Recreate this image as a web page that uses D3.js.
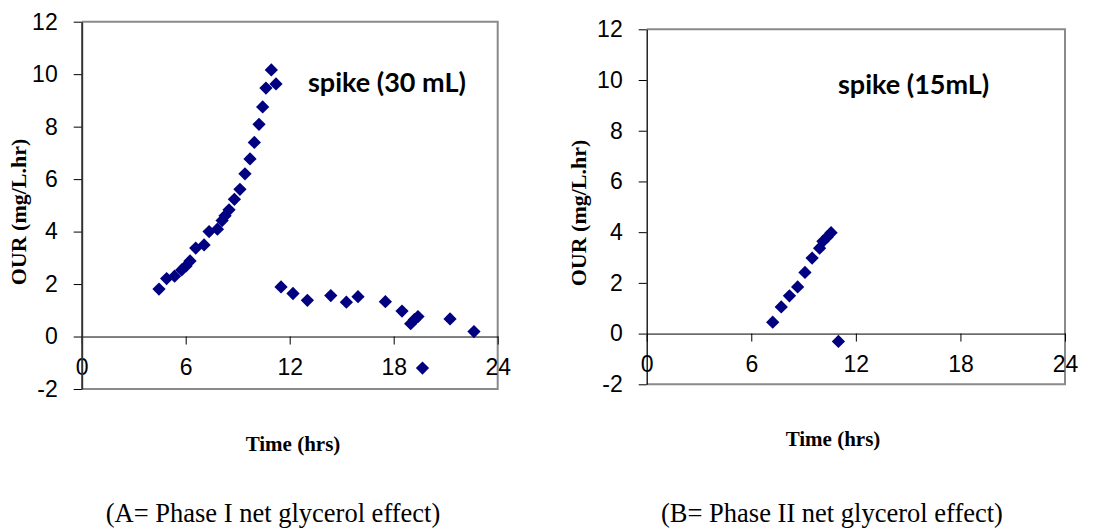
<!DOCTYPE html>
<html>
<head>
<meta charset="utf-8">
<script src="https://cdn.jsdelivr.net/npm/d3@7"></script>
<style>
  html, body { margin: 0; padding: 0; background: #fff; }
  svg { display: block; }
</style>
</head>
<body>
<svg id="chart" width="1094" height="531"></svg>
<script>
// ---------- data ----------
const xTicks = [0, 6, 12, 18, 24];
const yTicks = [-2, 0, 2, 4, 6, 8, 10, 12];

// Panel A: Phase I (spike 30 mL)
const phaseITime = [4.46, 4.90, 5.36, 5.77, 6.02, 6.25, 6.58, 7.06, 7.35, 7.83, 8.10, 8.27, 8.50,
  8.81, 9.13, 9.42, 9.71, 9.96, 10.23, 10.44, 10.63, 10.94, 11.21,
  11.50, 12.19, 13.02, 14.37, 15.27, 15.94, 17.52, 18.48, 18.98, 19.19, 19.40, 19.66, 21.25, 22.63];
const phaseIOUR = [1.81, 2.21, 2.30, 2.54, 2.69, 2.88, 3.37, 3.49, 4.00, 4.09, 4.42, 4.60, 4.83,
  5.23, 5.61, 6.20, 6.77, 7.40, 8.09, 8.75, 9.47, 10.16, 9.63,
  1.89, 1.64, 1.38, 1.56, 1.31, 1.52, 1.33, 0.97, 0.49, 0.64, 0.76, -1.20, 0.67, 0.19];

// Panel B: Phase II (spike 15 mL)
const phaseIITime = [7.23, 7.72, 8.19, 8.66, 9.08, 9.49, 9.92, 10.11, 10.36, 10.58, 11.00];
const phaseIIOUR = [0.45, 1.05, 1.49, 1.84, 2.41, 2.98, 3.37, 3.64, 3.81, 3.98, -0.31];

const panelLabels = ["spike (30 mL)", "spike (15mL)"];
const captions = ["(A= Phase I net glycerol effect)", "(B= Phase II net glycerol effect)"];
const xTitle = "Time (hrs)";
const yTitle = "OUR (mg/L.hr)";

// ---------- layout ----------
const panels = [
  { time: phaseITime, our: phaseIOUR, label: panelLabels[0], caption: captions[0],
    x0: 81.7, x1: 497.7, yTop: 21.7, yBot: 389, axisW: 2, axisC: "#333",
    yTitleX: 26, yTitleY: 212, xTitleX: 293, xTitleY: 451, labelX: 308, labelY: 92, capX: 273, capY: 522 },
  { time: phaseIITime, our: phaseIIOUR, label: panelLabels[1], caption: captions[1],
    x0: 646.7, x1: 1065, yTop: 29.3, yBot: 384.3, axisW: 1.3, axisC: "#000",
    yTitleX: 586, yTitleY: 213, xTitleX: 833, xTitleY: 446, labelX: 838, labelY: 94, capX: 832, capY: 522 }
];

const svg = d3.select("#chart");
const diamond = d3.symbol().type(d3.symbolSquare).size(88);
const tickFont = "'Liberation Sans', Arial, sans-serif";

panels.forEach(p => {
  const x = d3.scaleLinear().domain([0, 24]).range([p.x0, p.x1]);
  const y = d3.scaleLinear().domain([-2, 12]).range([p.yBot, p.yTop]);
  const g = svg.append("g");

  // gray frame (top, right, bottom)
  g.append("path")
    .attr("d", `M${p.x0},${p.yTop}H${p.x1}V${p.yBot}H${p.x0}`)
    .attr("fill", "none").attr("stroke", "#8a8a8a").attr("stroke-width", 2);

  // x axis along y = 0
  const xa = g.append("g")
    .attr("transform", `translate(0,${y(0)})`)
    .call(d3.axisBottom(x).tickValues(xTicks).tickSize(8).tickSizeOuter(0).tickPadding(14.5).tickFormat(d => String(d)));
  xa.select(".domain").attr("stroke", "#000").attr("stroke-width", 1);
  xa.selectAll(".tick line").attr("stroke", "#000");
  xa.selectAll(".tick text").attr("font-family", tickFont).attr("font-size", 23).attr("fill", "#000");

  // y axis
  const ya = g.append("g")
    .attr("transform", `translate(${p.x0},0)`)
    .call(d3.axisLeft(y).tickValues(yTicks).tickSize(8).tickSizeOuter(0).tickPadding(16).tickFormat(d => String(d)));
  ya.select(".domain").attr("stroke", p.axisC).attr("stroke-width", p.axisW);
  ya.selectAll(".tick line").attr("stroke", "#000");
  ya.selectAll(".tick text").attr("font-family", tickFont).attr("font-size", 23).attr("fill", "#000");

  // points
  g.append("g").selectAll("path")
    .data(p.time.map((t, i) => [t, p.our[i]]))
    .join("path")
    .attr("d", diamond)
    .attr("transform", d => `translate(${x(d[0])},${y(d[1])}) rotate(45)`)
    .attr("fill", "#000080");

  // annotation
  g.append("text")
    .attr("x", p.labelX).attr("y", p.labelY)
    .attr("font-family", "Lato, 'Open Sans', sans-serif")
    .attr("font-weight", "bold").attr("font-size", 27)
    .text(p.label);

  // axis titles
  g.append("text")
    .attr("transform", `translate(${p.yTitleX},${p.yTitleY}) rotate(-90)`)
    .attr("text-anchor", "middle")
    .attr("font-family", "'Liberation Serif', 'Times New Roman', serif")
    .attr("font-weight", "bold").attr("font-size", 22)
    .text(yTitle);

  g.append("text")
    .attr("x", p.xTitleX).attr("y", p.xTitleY)
    .attr("text-anchor", "middle")
    .attr("font-family", "'Liberation Serif', 'Times New Roman', serif")
    .attr("font-weight", "bold").attr("font-size", 21)
    .text(xTitle);

  // caption
  g.append("text")
    .attr("x", p.capX).attr("y", p.capY)
    .attr("text-anchor", "middle")
    .attr("font-family", "'Liberation Serif', 'Times New Roman', serif")
    .attr("font-size", 26.5)
    .text(p.caption);
});
</script>
</body>
</html>
